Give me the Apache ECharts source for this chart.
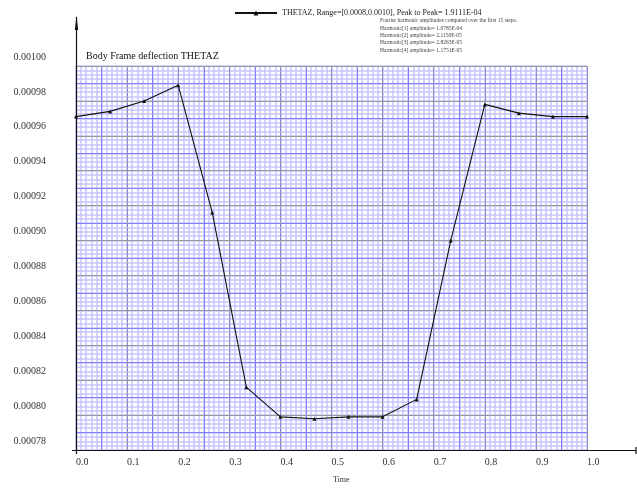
<!DOCTYPE html>
<html>
<head>
<meta charset="utf-8">
<script src="https://cdn.jsdelivr.net/npm/echarts@6/dist/echarts.min.js"></script>
<style>
  html, body { margin: 0; padding: 0; background: #ffffff; }
  #chart { width: 637px; height: 488px; }
</style>
</head>
<body>
<div id="chart"></div>
<script>
// Sample times (15 steps over one period) and THETAZ deflection values
const times = [0, 1/15, 2/15, 3/15, 4/15, 5/15, 6/15, 7/15, 8/15, 9/15, 10/15, 11/15, 12/15, 13/15, 14/15, 1];
const thetaz = [0.000971, 0.000974, 0.000980, 0.000989, 0.000916, 0.000816, 0.000799, 0.0007979,
                0.000799, 0.000799, 0.000809, 0.000900, 0.000978, 0.000973, 0.000971, 0.000971];

const seriesName = 'THETAZ, Range=[0.0008,0.0010], Peak to Peak= 1.9111E-04';
const plotTitle = 'Body Frame deflection THETAZ';
const xAxisName = 'Time';
const harmonicNotes = [
  'Fourier harmonic amplitudes computed over the first 15 steps.',
  'Harmonic[1] amplitude= 1.0785E-04',
  'Harmonic[2] amplitude= 2.1150E-05',
  'Harmonic[3] amplitude= 2.8263E-05',
  'Harmonic[4] amplitude= 1.1751E-05'
];

const yMin = 0.00078, yMax = 0.00100;
const serif = '"Liberation Serif", "DejaVu Serif", serif';

const GRID = { left: 76, right: 50, top: 66, bottom: 38 };

function gridAxis(kind, interval, color, width, z, dashed, extra) {
  return Object.assign({
    type: 'value',
    gridIndex: 0,
    interval: interval,
    z: z,
    axisLine: { show: false },
    axisTick: { show: false },
    axisLabel: { show: false },
    splitLine: { show: true, lineStyle: { color: color, width: width, type: dashed ? [3, 2] : 'solid' } }
  }, kind === 'x' ? { min: 0, max: 1, position: 'bottom' } : { min: yMin, max: yMax, position: 'left' }, extra || {});
}

const chart = echarts.init(document.getElementById('chart'), null, { renderer: 'canvas' });

chart.setOption({
  backgroundColor: '#ffffff',
  animation: false,
  grid: Object.assign({ containLabel: false }, GRID),
  title: {
    text: plotTitle,
    left: 86, top: 51, padding: 0,
    textStyle: { fontFamily: serif, fontSize: 10, fontWeight: 'normal', color: '#111' }
  },
  legend: {
    left: 229, top: 4,
    itemWidth: 42, itemHeight: 6, itemGap: 10,
    textStyle: { fontFamily: serif, fontSize: 8, color: '#222' },
    data: [seriesName]
  },
  xAxis: [
    gridAxis('x', 0.01, '#c6c6ff', 1.5, 0, false),
    gridAxis('x', 0.05, '#8080ff', 1, 1, false),
    gridAxis('x', 0.1, '#999999', 1, 2, true, {
      axisLabel: {
        show: true, align: 'left', margin: 7,
        fontFamily: serif, fontSize: 10, color: '#333',
        formatter: v => v.toFixed(1)
      }
    })
  ],
  yAxis: [
    gridAxis('y', 0.0000025, '#c6c6ff', 1.5, 0, false),
    gridAxis('y', 0.00001, '#8080ff', 1, 1, false),
    gridAxis('y', 0.00002, '#999999', 1, 2, false, {
      axisLabel: {
        show: true, margin: 30, verticalAlign: 'bottom', lineHeight: 12, padding: [0, 0, 3, 0],
        fontFamily: serif, fontSize: 10, color: '#333',
        formatter: v => v.toFixed(5)
      }
    })
  ],
  series: [{
    name: seriesName,
    type: 'line',
    xAxisIndex: 2,
    yAxisIndex: 2,
    z: 5,
    data: times.map((t, i) => [t, thetaz[i]]),
    symbol: 'triangle',
    symbolSize: 4,
    lineStyle: { color: '#111', width: 1.1 },
    itemStyle: { color: '#111' }
  }],
  graphic: [
    // axes with arrowheads running past the plot area
    { type: 'line', z: 10, shape: { x1: 72, y1: 450.5, x2: 636, y2: 450.5 }, style: { stroke: '#111', lineWidth: 1.2 } },
    { type: 'line', z: 10, shape: { x1: 636, y1: 447, x2: 636, y2: 454 }, style: { stroke: '#111', lineWidth: 1.2 } },
    { type: 'line', z: 10, shape: { x1: 76.5, y1: 454, x2: 76.5, y2: 17 }, style: { stroke: '#111', lineWidth: 1.2 } },
    { type: 'polygon', z: 10, shape: { points: [[76.5, 16], [74.8, 30], [78.2, 30]] }, style: { fill: '#111' } },
    // axis name
    { type: 'text', z: 10, left: 333, top: 476, style: { text: xAxisName, font: '8px ' + serif, fill: '#333' } },
    // harmonic amplitude notes
    ...harmonicNotes.map((s, i) => ({
      type: 'text', z: 10, left: 380, top: 18 + i * 7.3,
      style: { text: s, font: '5.5px ' + serif, fill: '#444' }
    }))
  ]
});
</script>
</body>
</html>
